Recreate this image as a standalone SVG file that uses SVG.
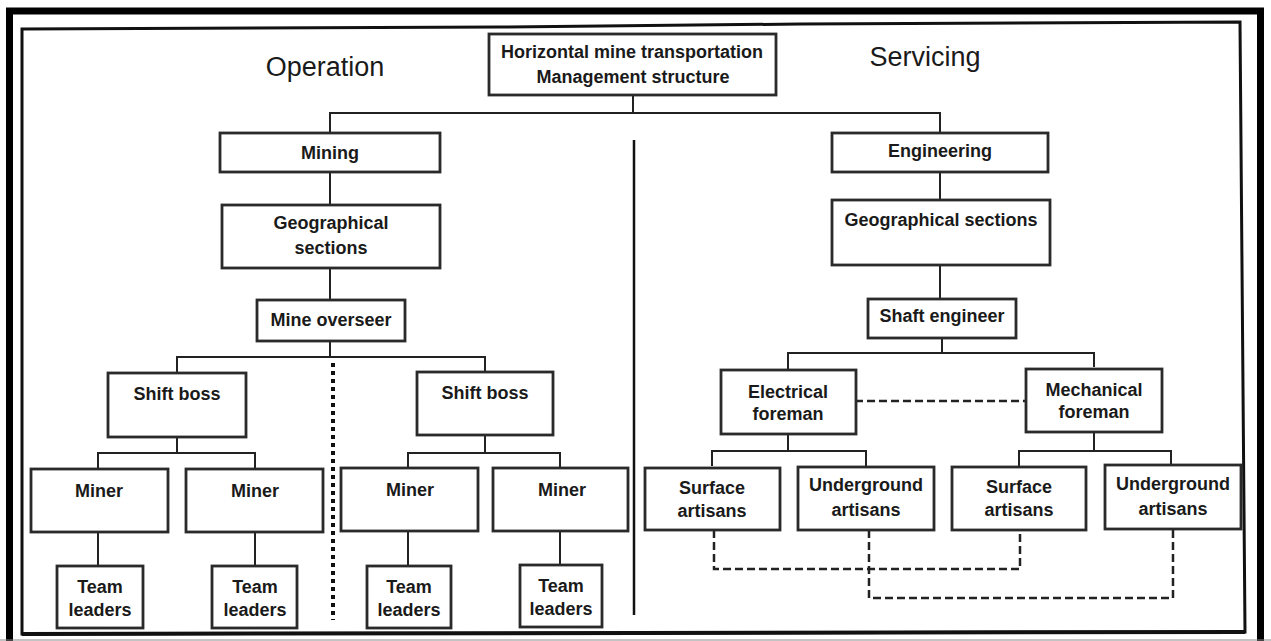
<svg xmlns="http://www.w3.org/2000/svg" width="1271" height="641" viewBox="0 0 1271 641">
<style>
.box{fill:#fff;stroke:#2a2a2a;stroke-width:2.8}
.t{font-family:"Liberation Sans",Arial,sans-serif;font-weight:bold;font-size:18px;fill:#1a1a1a;text-anchor:middle}
.h{font-family:"Liberation Sans",Arial,sans-serif;font-size:27px;fill:#1a1a1a;text-anchor:middle}
.ln{fill:none;stroke:#222;stroke-width:2}
.dash{fill:none;stroke:#222;stroke-width:2.5;stroke-dasharray:8 4}
.dot{fill:none;stroke:#111;stroke-width:4;stroke-dasharray:4 4}
</style>
<rect x="0" y="0" width="1271" height="641" fill="#fff"/>
<g id="frame">
<path d="M9.5,645 V11 H1260.5 V645" fill="none" stroke="#000" stroke-width="7"/>
<path d="M22,634 V29 L500,27 L800,24 L1240,22 L1245,632 Z" fill="none" stroke="#111" stroke-width="3"/>
<line x1="22" y1="634" x2="1245" y2="632" stroke="#111" stroke-width="4"/>
<line x1="0" y1="640" x2="1271" y2="640" stroke="#888" stroke-width="1"/>
</g>
<g id="headings">
<text class="h" x="325" y="76">Operation</text>
<text class="h" x="925" y="66">Servicing</text>
</g>
<g id="connectors">
<path class="ln" d="M633,95 V113 M330,133 V113 H940 V133"/>
<path class="ln" d="M330,172 V205 M330,268 V300 M330,341 V357 M177,372 V357 H485 V372"/>
<path class="ln" d="M177,437 V453 M98,468 V453 H255 V468 M485,435 V453 M408,468 V453 H560 V468"/>
<path class="ln" d="M98,532 V566 M255,532 V566 M408,531 V566 M560,531 V565"/>
<path class="ln" d="M940,172 V200 M940,265 V298 M942,338 V353 M788,369 V353 H1094 V367"/>
<path class="ln" d="M788,432 V451 M712,466 V451 H866 V466 M1094,432 V451 M1019,466 V451 H1171 V465"/>
<line x1="634" y1="140" x2="634" y2="615" stroke="#111" stroke-width="2.5"/>
<line class="dot" x1="333" y1="363" x2="333" y2="620"/>
<path class="dash" d="M855,401 H1025"/>
<path class="dash" d="M714,530 V569 H1020 V530"/>
<path class="dash" d="M869,530 V598 H1173 V529"/>
</g>
<g id="n-top"><rect class="box" x="489" y="34" width="287" height="61"/><text class="t" x="632" y="58">Horizontal mine transportation</text><text class="t" x="633" y="83">Management structure</text></g>
<g id="n-mining"><rect class="box" x="220" y="133" width="220" height="39"/><text class="t" x="330" y="159">Mining</text></g>
<g id="n-geo-l"><rect class="box" x="222" y="205" width="218" height="63"/><text class="t" x="331" y="229">Geographical</text><text class="t" x="331" y="254">sections</text></g>
<g id="n-overseer"><rect class="box" x="257" y="300" width="148" height="41"/><text class="t" x="331" y="326">Mine overseer</text></g>
<g id="n-shift-l"><rect class="box" x="108" y="373" width="138" height="64"/><text class="t" x="177" y="400">Shift boss</text></g>
<g id="n-shift-r"><rect class="box" x="417" y="372" width="136" height="63"/><text class="t" x="485" y="399">Shift boss</text></g>
<g id="n-miner1"><rect class="box" x="31" y="469" width="137" height="63"/><text class="t" x="99" y="497">Miner</text></g>
<g id="n-miner2"><rect class="box" x="186" y="469" width="137" height="63"/><text class="t" x="255" y="497">Miner</text></g>
<g id="n-miner3"><rect class="box" x="341" y="468" width="137" height="63"/><text class="t" x="410" y="496">Miner</text></g>
<g id="n-miner4"><rect class="box" x="493" y="468" width="135" height="63"/><text class="t" x="562" y="496">Miner</text></g>
<g id="n-team1"><rect class="box" x="57" y="566" width="86" height="62"/><text class="t" x="100" y="593">Team</text><text class="t" x="100" y="616">leaders</text></g>
<g id="n-team2"><rect class="box" x="212" y="566" width="85" height="62"/><text class="t" x="255" y="593">Team</text><text class="t" x="255" y="616">leaders</text></g>
<g id="n-team3"><rect class="box" x="367" y="566" width="84" height="62"/><text class="t" x="409" y="593">Team</text><text class="t" x="409" y="616">leaders</text></g>
<g id="n-team4"><rect class="box" x="520" y="565" width="82" height="62"/><text class="t" x="561" y="592">Team</text><text class="t" x="561" y="615">leaders</text></g>
<g id="n-engineering"><rect class="box" x="832" y="133" width="216" height="39"/><text class="t" x="940" y="157">Engineering</text></g>
<g id="n-geo-r"><rect class="box" x="832" y="200" width="218" height="65"/><text class="t" x="941" y="226">Geographical sections</text></g>
<g id="n-shaft"><rect class="box" x="868" y="299" width="148" height="39"/><text class="t" x="942" y="322">Shaft engineer</text></g>
<g id="n-elec"><rect class="box" x="721" y="370" width="135" height="64"/><text class="t" x="788" y="398">Electrical</text><text class="t" x="788" y="420">foreman</text></g>
<g id="n-mech"><rect class="box" x="1026" y="369" width="136" height="63"/><text class="t" x="1094" y="396">Mechanical</text><text class="t" x="1094" y="418">foreman</text></g>
<g id="n-surf-l"><rect class="box" x="645" y="468" width="135" height="62"/><text class="t" x="712" y="494">Surface</text><text class="t" x="712" y="517">artisans</text></g>
<g id="n-under-l"><rect class="box" x="798" y="467" width="136" height="63"/><text class="t" x="866" y="491">Underground</text><text class="t" x="866" y="516">artisans</text></g>
<g id="n-surf-r"><rect class="box" x="952" y="467" width="134" height="63"/><text class="t" x="1019" y="493">Surface</text><text class="t" x="1019" y="516">artisans</text></g>
<g id="n-under-r"><rect class="box" x="1105" y="465" width="136" height="64"/><text class="t" x="1173" y="490">Underground</text><text class="t" x="1173" y="515">artisans</text></g>
</svg>
